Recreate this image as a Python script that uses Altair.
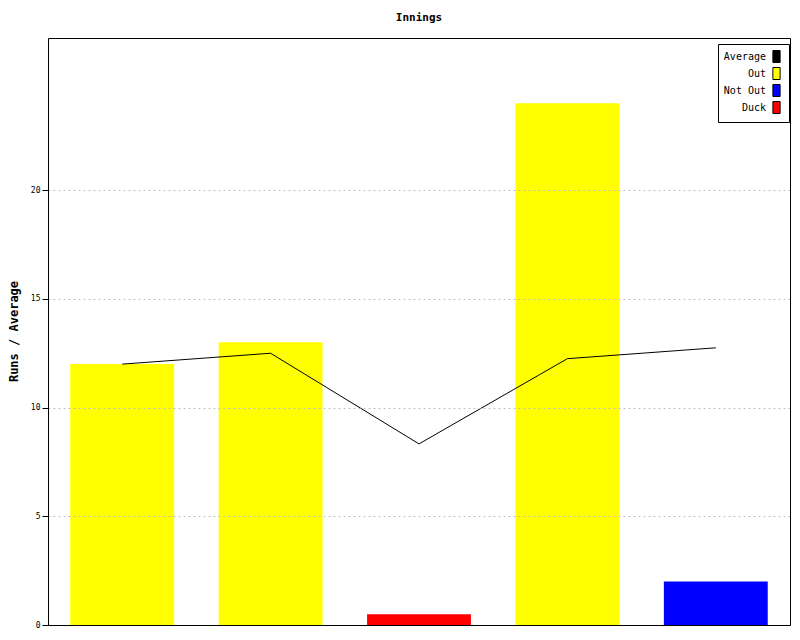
import altair as alt
import pandas as pd

innings = ["1", "2", "3", "4", "5"]
runs = [12, 13, 0.5, 24, 2]
kinds = ["Out", "Out", "Duck", "Out", "Not Out"]
averages = [12, 12.5, 8.33, 12.25, 12.75]

legend_names = ["Average", "Out", "Not Out", "Duck"]
legend_colors = ["#000000", "#ffff00", "#0000ff", "#ff0000"]
y_ticks = [0, 5, 10, 15, 20]

df = pd.DataFrame({"inning": innings, "runs": runs, "kind": kinds, "average": averages})

FONT = "DejaVu Sans Mono"

x_scale = alt.Scale(paddingInner=0.3, paddingOuter=0.15)
y_scale = alt.Scale(domain=[0, 27], nice=False)

x_enc = alt.X(
    "inning:N",
    sort=innings,
    scale=x_scale,
    axis=alt.Axis(labels=False, ticks=False, title=None, domainColor="black",
                  domainWidth=1, grid=False, zindex=2),
)

y_axis = alt.Axis(
    values=y_ticks, grid=True, gridColor="#c0c0c0", gridDash=[2, 3], gridWidth=1,
    tickSize=6, tickColor="black", domainColor="black", labelFont=FONT,
    labelFontSize=8, labelColor="black", labelPadding=2,
    title="Runs / Average", titleFont=FONT, titleFontSize=12, titleFontWeight="bold",
    titleColor="black", titleAngle=270, titleX=-35, titleY=293, titleBaseline="middle",
    titleAlign="center", zindex=1,
)

bars = alt.Chart(df).mark_bar().encode(
    x=x_enc,
    y=alt.Y("runs:Q", scale=y_scale, axis=y_axis),
    color=alt.Color(
        "kind:N",
        scale=alt.Scale(domain=legend_names, range=legend_colors),
        legend=alt.Legend(
            title=None, orient="none", legendX=670, legendY=6,
            symbolType="M-0.6,-1H0.6V1H-0.6Z", symbolSize=144,
            symbolOffset=46, symbolStrokeColor="black", symbolStrokeWidth=1,
            symbolOpacity=1,
            labelAlign="right", labelOffset=alt.ExprRef(expr="-17"), labelFont=FONT,
            labelFontSize=10, labelColor="black", fillColor="white", strokeColor="black",
            padding=6, rowPadding=0,
        ),
    ),
)

line = alt.Chart(df).mark_line(color="black", strokeWidth=1).encode(
    x=alt.X("inning:N", sort=innings, scale=x_scale,
            axis=alt.Axis(orient="top", labels=False, ticks=False, title=None,
                          domainColor="black", domainWidth=1, grid=False, zindex=2)),
    y=alt.Y("average:Q", scale=y_scale,
            axis=alt.Axis(orient="right", labels=False, ticks=False, title=None,
                          domainColor="black", domainWidth=1, grid=False, zindex=2)),
)

chart = alt.layer(bars, line).resolve_axis(x="independent", y="independent").properties(
    width=742,
    height=587,
    title=alt.TitleParams("Innings", font=FONT, fontSize=11, fontWeight="bold",
                          color="black", anchor="middle", offset=15),
    autosize=alt.AutoSizeParams(type="none"),
    padding={"left": 40, "top": 30, "right": 2, "bottom": 7},
).configure_view(stroke=None).configure(background="white")

chart.save("out.html", embed_options={"renderer": "svg", "actions": False})
